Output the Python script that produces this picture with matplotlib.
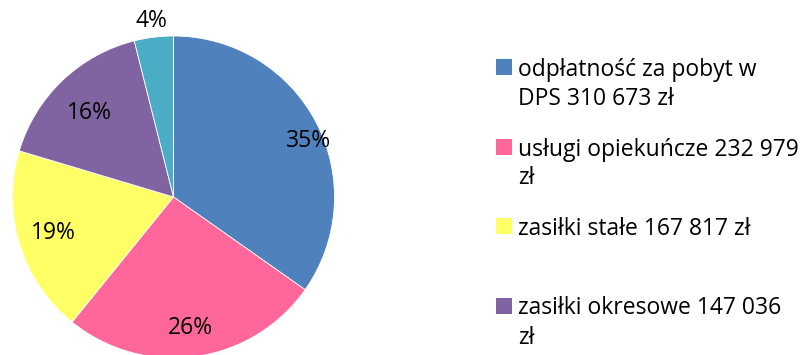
import numpy as np
import matplotlib
matplotlib.use("Agg")
import matplotlib.pyplot as plt
import matplotlib.patches as mpatches

plt.rcParams["font.family"] = ["Open Sans", "DejaVu Sans"]

# wydatki (zł); ostatnia pozycja bez opisu w legendzie
values = [310673, 232979, 167817, 147036, 35000]
legend_labels = [
    "odpłatność za pobyt w\nDPS 310 673 zł",
    "usługi opiekuńcze 232 979\nzł",
    "zasiłki stałe 167 817 zł",
    "zasiłki okresowe 147 036\nzł",
]
colors = ["#4F81BD", "#FF6699", "#FFFF66", "#8064A2", "#4BACC6"]
label_r = [0.91, 0.82, 0.78, 0.74, 1.10]
label_da = [-5.0, -0.7, -0.5, 1.5, 0.0]

W, H = 802, 355
FS = 16.5
fig = plt.figure(figsize=(W / 100, H / 100), dpi=100)
ax = fig.add_axes([0, 0, 1, 1])

cx, cy, R = 173.5, H - 197, 161
wedges, _, autotexts = ax.pie(
    values, colors=colors, startangle=90, counterclock=False,
    center=(cx, cy), radius=R, autopct="%1.0f%%",
    wedgeprops=dict(edgecolor="white", linewidth=0.6),
    textprops=dict(fontsize=FS, color="black"), frame=True,
)
ax.set_xlim(0, W)
ax.set_ylim(0, H)
ax.set_aspect("equal")
ax.axis("off")

for w, t, r, da in zip(wedges, autotexts, label_r, label_da):
    mid = np.radians((w.theta1 + w.theta2) / 2 + da)
    t.set_position((cx + r * R * np.cos(mid), cy + r * R * np.sin(mid)))
    t.set_ha("center")
    t.set_va("center")

# legenda: kwadrat + tekst, każda linia osobno
base0, step, line_h, sq = 76, 79.5, 29, 16
for i, (lab, col) in enumerate(zip(legend_labels, colors)):
    yb = base0 + i * step
    ax.add_patch(mpatches.Rectangle((496, H - (yb - 1)), sq, sq,
                                    facecolor=col, edgecolor="none"))
    for k, line in enumerate(lab.split("\n")):
        ax.text(518, H - (yb + k * line_h), line, fontsize=FS,
                ha="left", va="baseline")

fig.savefig("out.png", dpi=100)
